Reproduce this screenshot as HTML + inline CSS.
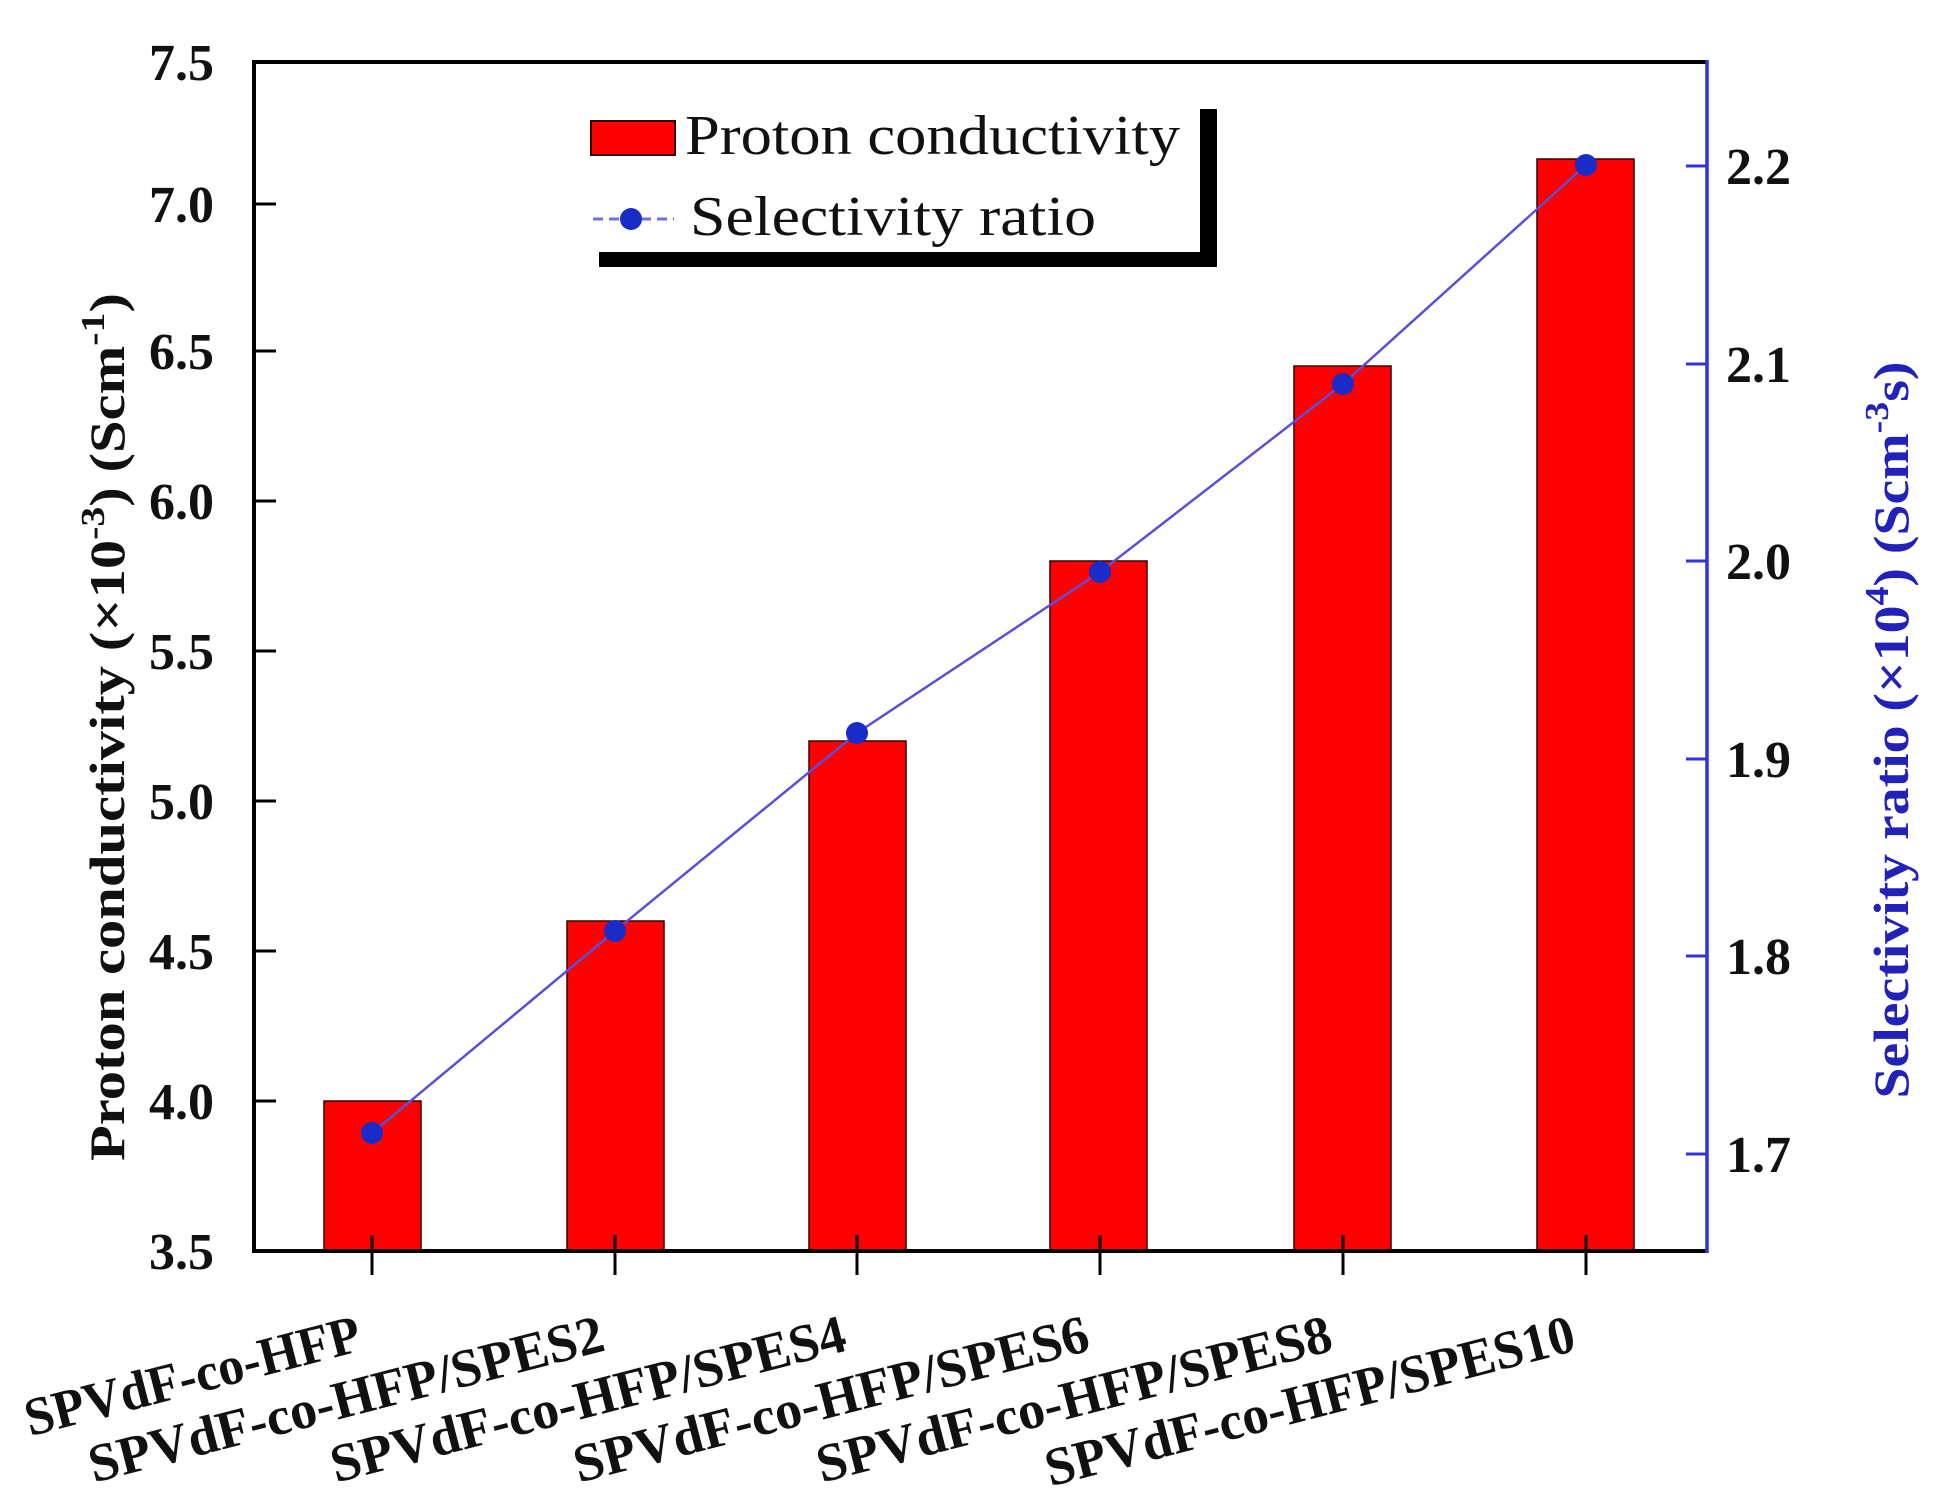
<!DOCTYPE html>
<html><head><meta charset="utf-8"><style>
html,body{margin:0;padding:0;background:#fff;}
svg{display:block;}
text{font-family:"Liberation Serif",serif;}
</style></head><body>
<svg width="1957" height="1499" viewBox="0 0 1957 1499" xmlns="http://www.w3.org/2000/svg">
<rect width="1957" height="1499" fill="#fff"/>
<g fill="#ff0000" stroke="#300" stroke-width="1.5">
<rect x="324" y="1101" width="97" height="150"/>
<rect x="567" y="921" width="97" height="330"/>
<rect x="809" y="741" width="97" height="510"/>
<rect x="1050" y="561" width="97" height="690"/>
<rect x="1294" y="366" width="97" height="885"/>
<rect x="1537" y="159" width="97" height="1092"/>
</g>
<line x1="254" y1="62" x2="1707" y2="62" stroke="#000" stroke-width="4"/>
<line x1="254" y1="60" x2="254" y2="1253" stroke="#000" stroke-width="4"/>
<line x1="252" y1="1251" x2="1707" y2="1251" stroke="#000" stroke-width="4"/>
<line x1="1707" y1="60" x2="1707" y2="1253" stroke="#3333dd" stroke-width="3.5"/>
<g stroke="#000" stroke-width="3">
<line x1="254" y1="204" x2="276" y2="204"/>
<line x1="254" y1="351" x2="276" y2="351"/>
<line x1="254" y1="501" x2="276" y2="501"/>
<line x1="254" y1="651" x2="276" y2="651"/>
<line x1="254" y1="801" x2="276" y2="801"/>
<line x1="254" y1="951" x2="276" y2="951"/>
<line x1="254" y1="1101" x2="276" y2="1101"/>
</g>
<g stroke="#000" stroke-width="3">
<line x1="372" y1="1235" x2="372" y2="1275"/>
<line x1="615" y1="1235" x2="615" y2="1275"/>
<line x1="857" y1="1235" x2="857" y2="1275"/>
<line x1="1100" y1="1235" x2="1100" y2="1275"/>
<line x1="1343" y1="1235" x2="1343" y2="1275"/>
<line x1="1586" y1="1235" x2="1586" y2="1275"/>
</g>
<g stroke="#3333dd" stroke-width="3">
<line x1="1686" y1="166" x2="1707" y2="166"/>
<line x1="1686" y1="364" x2="1707" y2="364"/>
<line x1="1686" y1="561" x2="1707" y2="561"/>
<line x1="1686" y1="759" x2="1707" y2="759"/>
<line x1="1686" y1="956" x2="1707" y2="956"/>
<line x1="1686" y1="1154" x2="1707" y2="1154"/>
</g>
<g font-size="52" font-weight="bold" text-anchor="end" fill="#111">
<text x="214" y="80">7.5</text>
<text x="214" y="222">7.0</text>
<text x="214" y="369">6.5</text>
<text x="214" y="519">6.0</text>
<text x="214" y="669">5.5</text>
<text x="214" y="819">5.0</text>
<text x="214" y="969">4.5</text>
<text x="214" y="1119">4.0</text>
<text x="214" y="1269">3.5</text>
</g>
<g font-size="52" font-weight="bold" fill="#111">
<text x="1726" y="184">2.2</text>
<text x="1726" y="382">2.1</text>
<text x="1726" y="579">2.0</text>
<text x="1726" y="777">1.9</text>
<text x="1726" y="974">1.8</text>
<text x="1726" y="1172">1.7</text>
</g>
<text transform="translate(124,727) rotate(-90)" text-anchor="middle" font-size="50" font-weight="bold" fill="#111" textLength="868" lengthAdjust="spacingAndGlyphs">Proton conductivity (×10<tspan dy="-20" font-size="34">-3</tspan><tspan dy="20">)  (Scm</tspan><tspan dy="-20" font-size="34">-1</tspan><tspan dy="20">)</tspan></text>
<text transform="translate(1908,730) rotate(-90)" text-anchor="middle" font-size="50" font-weight="bold" fill="#2222bb" textLength="737" lengthAdjust="spacingAndGlyphs">Selectivity ratio (×10<tspan dy="-20" font-size="34">4</tspan><tspan dy="20">) (Scm</tspan><tspan dy="-20" font-size="34">-3</tspan><tspan dy="20">s)</tspan></text>
<polyline points="372,1133 615,931 857,733 1100,572 1343,384 1586,165" fill="none" stroke="#5a50d8" stroke-width="2.5"/>
<g fill="#1a2cc8">
<circle cx="372" cy="1133" r="11"/>
<circle cx="615" cy="931" r="11"/>
<circle cx="857" cy="733" r="11"/>
<circle cx="1100" cy="572" r="11"/>
<circle cx="1343" cy="384" r="11"/>
<circle cx="1586" cy="165" r="11"/>
</g>
<rect x="1200" y="109" width="17" height="158" fill="#000"/>
<rect x="599" y="252" width="618" height="15" fill="#000"/>
<rect x="591" y="121" width="84" height="34" fill="#ff0000" stroke="#300" stroke-width="2"/>
<text x="685" y="154" font-size="56" fill="#111" textLength="495" lengthAdjust="spacingAndGlyphs">Proton conductivity</text>
<line x1="593" y1="219" x2="674" y2="219" stroke="#7070e0" stroke-width="3" stroke-dasharray="10,6"/>
<circle cx="631" cy="219" r="11" fill="#1a2cc8"/>
<text x="690" y="235" font-size="56" fill="#111" textLength="406" lengthAdjust="spacingAndGlyphs">Selectivity ratio</text>
<g font-size="54" font-weight="bold" fill="#111" text-anchor="end">
<text transform="translate(364,1350) rotate(-14.5)" textLength="345" lengthAdjust="spacingAndGlyphs">SPVdF-co-HFP</text>
<text transform="translate(607,1350) rotate(-14.5)" textLength="530" lengthAdjust="spacingAndGlyphs">SPVdF-co-HFP/SPES2</text>
<text transform="translate(849,1350) rotate(-14.5)" textLength="530" lengthAdjust="spacingAndGlyphs">SPVdF-co-HFP/SPES4</text>
<text transform="translate(1092,1350) rotate(-14.5)" textLength="530" lengthAdjust="spacingAndGlyphs">SPVdF-co-HFP/SPES6</text>
<text transform="translate(1335,1350) rotate(-14.5)" textLength="530" lengthAdjust="spacingAndGlyphs">SPVdF-co-HFP/SPES8</text>
<text transform="translate(1578,1350) rotate(-14.5)" textLength="545" lengthAdjust="spacingAndGlyphs">SPVdF-co-HFP/SPES10</text>
</g>
</svg>
</body></html>
